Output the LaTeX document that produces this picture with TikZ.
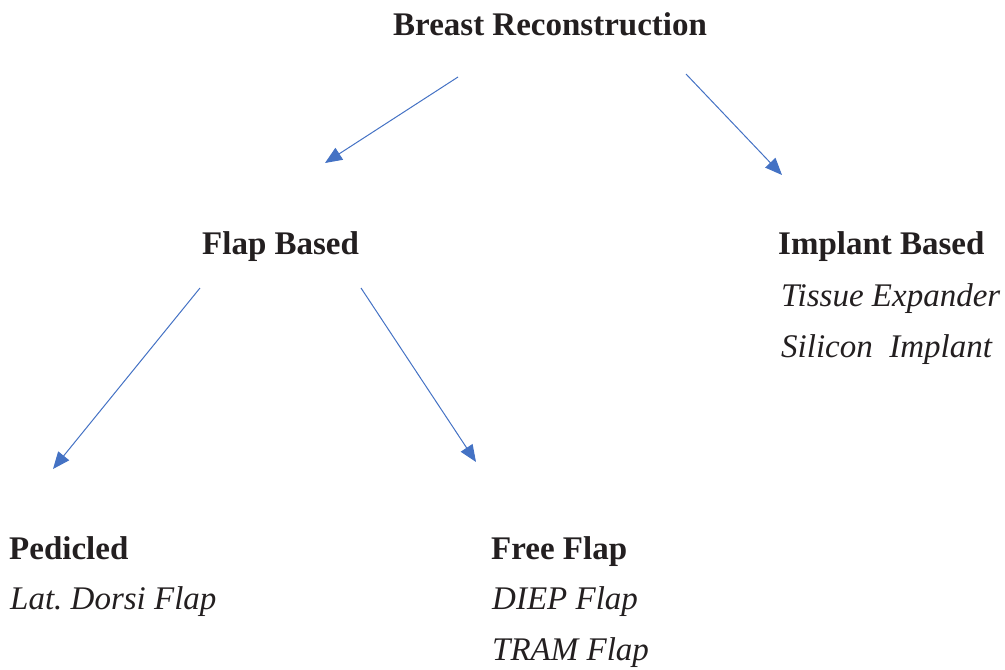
\documentclass[tikz,border=0pt]{standalone}
\usepackage{fontspec}
\setmainfont{Liberation Serif}
\usetikzlibrary{arrows.meta}
\definecolor{arrowblue}{HTML}{4472C4}
\definecolor{textdark}{HTML}{231F20}
\tikzset{
  head/.style={anchor=base west, inner sep=0pt, text=textdark, font=\fontsize{33}{38}\selectfont\bfseries},
  item/.style={anchor=base west, inner sep=0pt, text=textdark, font=\fontsize{33}{38}\selectfont\itshape},
  link/.style={draw=arrowblue, line width=1pt, -{Triangle[length=17pt,width=14pt]}}
}
\begin{document}
\begin{tikzpicture}[x=1pt,y=-1pt]
\useasboundingbox (0,0) rectangle (1005,670);
% texts
\node[head] (title) at (393,35) {Breast Reconstruction};
\node[head] (flap) at (202,254) {Flap Based};
\node[head] (implant) at (778,254) {Implant Based};
\node[item] (tissue) at (781,306) {Tissue Expander};
\node[item] (silicon) at (781,357) {Silicon\ \ Implant};
\node[head] (pedicled) at (9,559) {Pedicled};
\node[item] (latdorsi) at (10,609) {Lat.\ Dorsi Flap};
\node[head] (free) at (491,559) {Free Flap};
\node[item] (diep) at (492,609) {DIEP Flap};
\node[item] (tram) at (492,660) {TRAM Flap};
% connector end points
\coordinate (t1) at (458,77);
\coordinate (h1) at (325,163);
\coordinate (t2) at (686,74);
\coordinate (h2) at (782,175);
\coordinate (t3) at (200,288);
\coordinate (h3) at (53,469);
\coordinate (t4) at (361,288);
\coordinate (h4) at (476,462);
% connectors
\draw[link] (t1) -- (h1);
\draw[link] (t2) -- (h2);
\draw[link] (t3) -- (h3);
\draw[link] (t4) -- (h4);
\end{tikzpicture}
\end{document}
